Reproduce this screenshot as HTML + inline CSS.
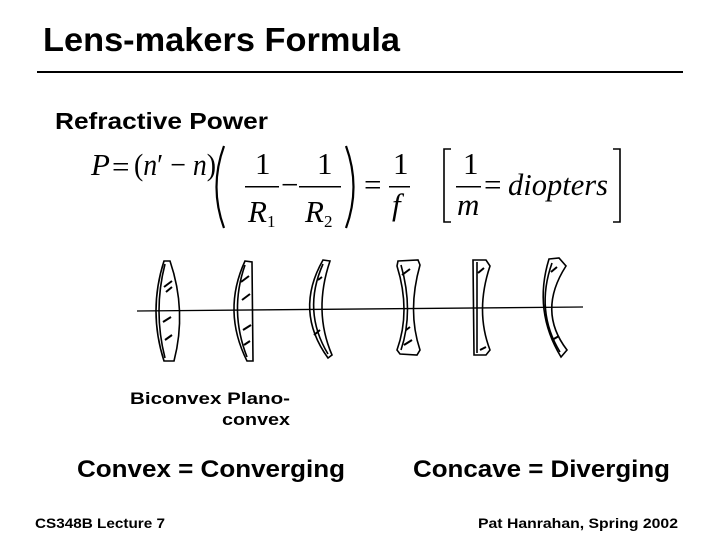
<!DOCTYPE html>
<html><head><meta charset="utf-8"><style>
html,body{margin:0;padding:0;background:#fff;}
svg{display:block;}
.b{font-family:"Liberation Sans",sans-serif;font-weight:bold;fill:#000;}
.m{font-family:"Liberation Serif",serif;font-size:31px;fill:#000;}
.i{font-style:italic;}
</style></head><body>
<svg width="720" height="540" viewBox="0 0 720 540" xmlns="http://www.w3.org/2000/svg">
<text class="b" x="43" y="51" font-size="33" textLength="357" lengthAdjust="spacingAndGlyphs">Lens-makers Formula</text>
<rect x="37" y="71" width="646" height="2" fill="#000"/>
<text class="b" x="55" y="129" font-size="23" textLength="213" lengthAdjust="spacingAndGlyphs">Refractive Power</text>

<!-- formula -->
<g class="m">
<text x="91" y="175" class="i">P</text>
<text x="112" y="177">=</text>
<text x="134" y="175" textLength="82" lengthAdjust="spacingAndGlyphs">(<tspan class="i">n</tspan>′ − <tspan class="i">n</tspan>)</text>
<text x="255" y="174">1</text>
<rect x="245" y="186" width="34" height="1.5"/>
<text x="248" y="222" class="i">R</text><text x="267" y="227" font-size="17">1</text>
<text x="281" y="195">−</text>
<text x="317" y="174">1</text>
<rect x="299" y="186" width="42" height="1.5"/>
<text x="305" y="222" class="i">R</text><text x="324" y="227" font-size="17">2</text>
<text x="364" y="195">=</text>
<text x="393" y="174">1</text>
<rect x="389" y="186" width="21" height="1.5"/>
<text x="392" y="215" class="i">f</text>
<text x="463" y="174">1</text>
<rect x="456" y="186" width="25" height="1.5"/>
<text x="457" y="215" class="i">m</text>
<text x="484" y="195">=</text>
<text x="508" y="195" class="i" textLength="100" lengthAdjust="spacingAndGlyphs">diopters</text>
</g>
<path d="M224 146 Q209 187 224 228" fill="none" stroke="#000" stroke-width="2.2"/>
<path d="M346 146 Q361 187 346 228" fill="none" stroke="#000" stroke-width="2.2"/>
<path d="M451 149 H444 V222 H451" fill="none" stroke="#000" stroke-width="1.6"/>
<path d="M613 149 H620 V222 H613" fill="none" stroke="#000" stroke-width="1.6"/>

<!-- axis -->
<path d="M137 311 L583 307" stroke="#000" stroke-width="1.3"/>
<g fill="none" stroke="#000" stroke-width="1.6">
<path d="M164 261 L170 261 Q187 311 174 361 L164 361 Q148 311 164 261 Z"/>
<path d="M165 264 Q153 311 165 358"/>
<path d="M245 261 L252 262 L253 361 L247 361 Q222 311 245 261 Z"/>
<path d="M245 265 Q229 311 247 357"/>
<path d="M323 260 L330 261 Q313 311 332 355 L328 358 Q294 311 323 260 Z"/>
<path d="M323 264 Q302 311 328 354"/>
<path d="M398 261 L418 260 L420 265 Q407 311 420 350 L417 355 L400 354 L397 350 Q411 311 397 266 Z"/>
<path d="M401 265 Q414 311 401 350"/>
<path d="M473 260 L486 260 L490 266 Q475 311 490 350 L486 355 L474 355 Z"/>
<path d="M477 262 L477 353"/>
<path d="M549 259 L559 258 L566 266 Q537 311 567 350 L561 357 Q533 311 549 259 Z"/>
<path d="M552 263 Q535 311 560 352"/>
</g>
<g stroke="#000" stroke-width="2">
<path d="M164 287 l8 -6 M166 292 l6 -5 M163 322 l8 -5 M165 340 l7 -5"/>
<path d="M241 282 l8 -6 M242 300 l8 -6 M243 330 l8 -5 M244 345 l6 -4"/>
<path d="M318 280 l4 -3 M314 335 l6 -5"/>
<path d="M402 275 l8 -6 M404 345 l8 -5 M406 330 l4 -3"/>
<path d="M478 273 l6 -5 M480 350 l6 -3"/>
<path d="M551 272 l6 -5 M552 340 l7 -4"/>
</g>

<text class="b" x="130" y="404" font-size="17" textLength="160" lengthAdjust="spacingAndGlyphs">Biconvex  Plano-</text>
<text class="b" x="222" y="425" font-size="17" textLength="68" lengthAdjust="spacingAndGlyphs">convex</text>
<text class="b" x="77" y="477" font-size="24" textLength="268" lengthAdjust="spacingAndGlyphs">Convex = Converging</text>
<text class="b" x="413" y="477" font-size="24" textLength="257" lengthAdjust="spacingAndGlyphs">Concave = Diverging</text>
<text class="b" x="35" y="528" font-size="14" textLength="130" lengthAdjust="spacingAndGlyphs">CS348B Lecture 7</text>
<text class="b" x="478" y="528" font-size="14" textLength="200" lengthAdjust="spacingAndGlyphs">Pat Hanrahan, Spring 2002</text>
</svg>
</body></html>
